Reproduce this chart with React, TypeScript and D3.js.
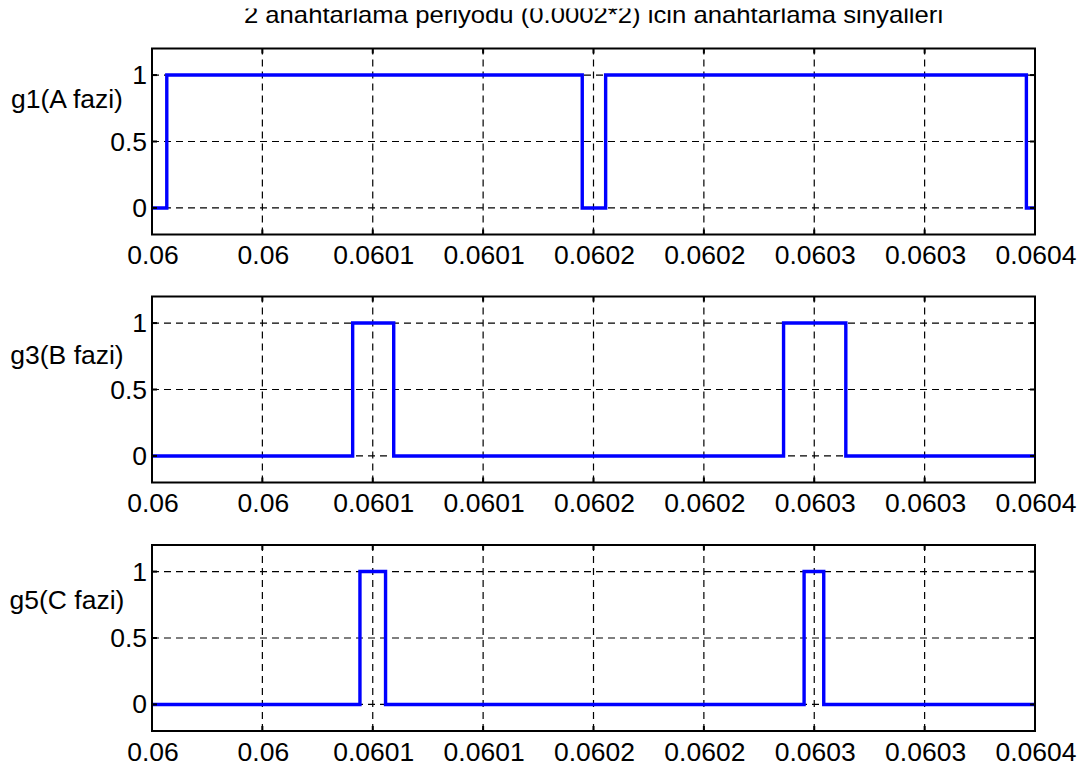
import React, { useEffect, useRef } from "react";
import * as d3 from "d3";

// Switching instants (s) and levels for each gate signal, two switching periods
const g1Times = [0.06, 0.0600067, 0.0601949, 0.0602055, 0.0603961, 0.0604];
const g1Levels = [0, 1, 0, 1, 0, 0];
const g3Times = [0.06, 0.0600909, 0.0601095, 0.0602861, 0.0603143, 0.0604];
const g3Levels = [0, 1, 0, 1, 0, 0];
const g5Times = [0.06, 0.0600942, 0.0601058, 0.0602954, 0.0603043, 0.0604];
const g5Levels = [0, 1, 0, 1, 0, 0];

const panelLabels = ["g1(A fazi)", "g3(B fazi)", "g5(C fazi)"];
const xTickValues = [0.06, 0.06005, 0.0601, 0.06015, 0.0602, 0.06025, 0.0603, 0.06035, 0.0604];
const xTickLabels = ["0.06", "0.06", "0.0601", "0.0601", "0.0602", "0.0602", "0.0603", "0.0603", "0.0604"];
const yTickValues = [0, 0.5, 1];
const yTickLabels = ["0", "0.5", "1"];
const titleText = "2 anahtarlama periyodu (0.0002*2) icin anahtarlama sinyalleri";

const W = 1088;
const H = 772;
const FONT = "'Liberation Sans', Arial, Helvetica, sans-serif";

export default function App() {
  const ref = useRef<SVGSVGElement>(null);

  useEffect(() => {
    const svg = d3.select(ref.current);
    svg.selectAll("*").remove();

    const left = 152;
    const right = 1035;
    const tops = [48.5, 296.5, 545];
    const plotH = 186;
    const labelBaselines = [108, 364, 609];
    const series = [
      { t: g1Times, v: g1Levels },
      { t: g3Times, v: g3Levels },
      { t: g5Times, v: g5Levels },
    ];

    const x = d3.scaleLinear().domain([0.06, 0.0604]).range([left, right]);

    const defs = svg.append("defs");
    defs
      .append("clipPath")
      .attr("id", "titleClip")
      .append("rect")
      .attr("x", 0)
      .attr("y", 8.5)
      .attr("width", W)
      .attr("height", 40);

    // Title (top part cut off by the figure edge)
    svg
      .append("g")
      .attr("clip-path", "url(#titleClip)")
      .append("text")
      .attr("transform", `translate(${(left + right) / 2},22.7) scale(1.07,1)`)
      .attr("text-anchor", "middle")
      .attr("font-family", FONT)
      .attr("font-size", 24)
      .attr("fill", "#000")
      .text(titleText);

    series.forEach((s, i) => {
      const top = tops[i];
      const y = d3.scaleLinear().domain([-0.2, 1.2]).range([top + plotH, top]);
      const g = svg.append("g");

      defs
        .append("clipPath")
        .attr("id", `plotClip${i}`)
        .append("rect")
        .attr("x", left)
        .attr("y", top)
        .attr("width", right - left)
        .attr("height", plotH);

      // grid
      const grid = g.append("g").attr("stroke", "#000").attr("stroke-width", 1.2).attr("stroke-dasharray", "7,5");
      xTickValues.forEach((tv) => {
        grid
          .append("line")
          .attr("x1", x(tv))
          .attr("x2", x(tv))
          .attr("y1", top + plotH)
          .attr("y2", top);
      });
      yTickValues.forEach((tv) => {
        grid
          .append("line")
          .attr("x1", left)
          .attr("x2", right)
          .attr("y1", y(tv))
          .attr("y2", y(tv));
      });

      // signal
      const pts: [number, number][] = s.t.map((tt, k) => [tt, s.v[k]]);
      const line = d3
        .line<[number, number]>()
        .x((p) => x(p[0]))
        .y((p) => y(p[1]))
        .curve(d3.curveStepAfter);
      g.append("path")
        .attr("d", line(pts) || "")
        .attr("fill", "none")
        .attr("stroke", "#0000ff")
        .attr("stroke-width", 3.4)
        .attr("stroke-linejoin", "miter")
        .attr("clip-path", `url(#plotClip${i})`);

      // box
      g.append("rect")
        .attr("x", left)
        .attr("y", top)
        .attr("width", right - left)
        .attr("height", plotH)
        .attr("fill", "none")
        .attr("stroke", "#000")
        .attr("stroke-width", 2);

      // ticks (inward, all four sides)
      const tl = 5;
      const ticks = g.append("g").attr("stroke", "#000").attr("stroke-width", 2);
      xTickValues.forEach((tv) => {
        ticks.append("line").attr("x1", x(tv)).attr("x2", x(tv)).attr("y1", top + plotH).attr("y2", top + plotH - tl);
        ticks.append("line").attr("x1", x(tv)).attr("x2", x(tv)).attr("y1", top).attr("y2", top + tl);
      });
      yTickValues.forEach((tv) => {
        ticks.append("line").attr("x1", left).attr("x2", left + tl).attr("y1", y(tv)).attr("y2", y(tv));
        ticks.append("line").attr("x1", right).attr("x2", right - tl).attr("y1", y(tv)).attr("y2", y(tv));
      });

      // x tick labels
      xTickValues.forEach((tv, k) => {
        g.append("text")
          .attr("transform", `translate(${x(tv) + 1},${top + plotH + 29.5}) scale(1.06,1)`)
          .attr("text-anchor", "middle")
          .attr("font-family", FONT)
          .attr("font-size", 25)
          .attr("fill", "#000")
          .text(xTickLabels[k]);
      });

      // y tick labels
      yTickValues.forEach((tv, k) => {
        g.append("text")
          .attr("transform", `translate(${left - 5},${y(tv) + 9}) scale(1.06,1)`)
          .attr("text-anchor", "end")
          .attr("font-family", FONT)
          .attr("font-size", 25)
          .attr("fill", "#000")
          .text(yTickLabels[k]);
      });

      // panel label
      g.append("text")
        .attr("transform", `translate(67,${labelBaselines[i]}) scale(1.06,1)`)
        .attr("text-anchor", "middle")
        .attr("font-family", FONT)
        .attr("font-size", 25)
        .attr("fill", "#000")
        .text(panelLabels[i]);
    });
  }, []);

  return (
    <svg
      ref={ref}
      width={W}
      height={H}
      viewBox={`0 0 ${W} ${H}`}
      style={{ position: "absolute", left: 0, top: 0, background: "#fff" }}
    />
  );
}
